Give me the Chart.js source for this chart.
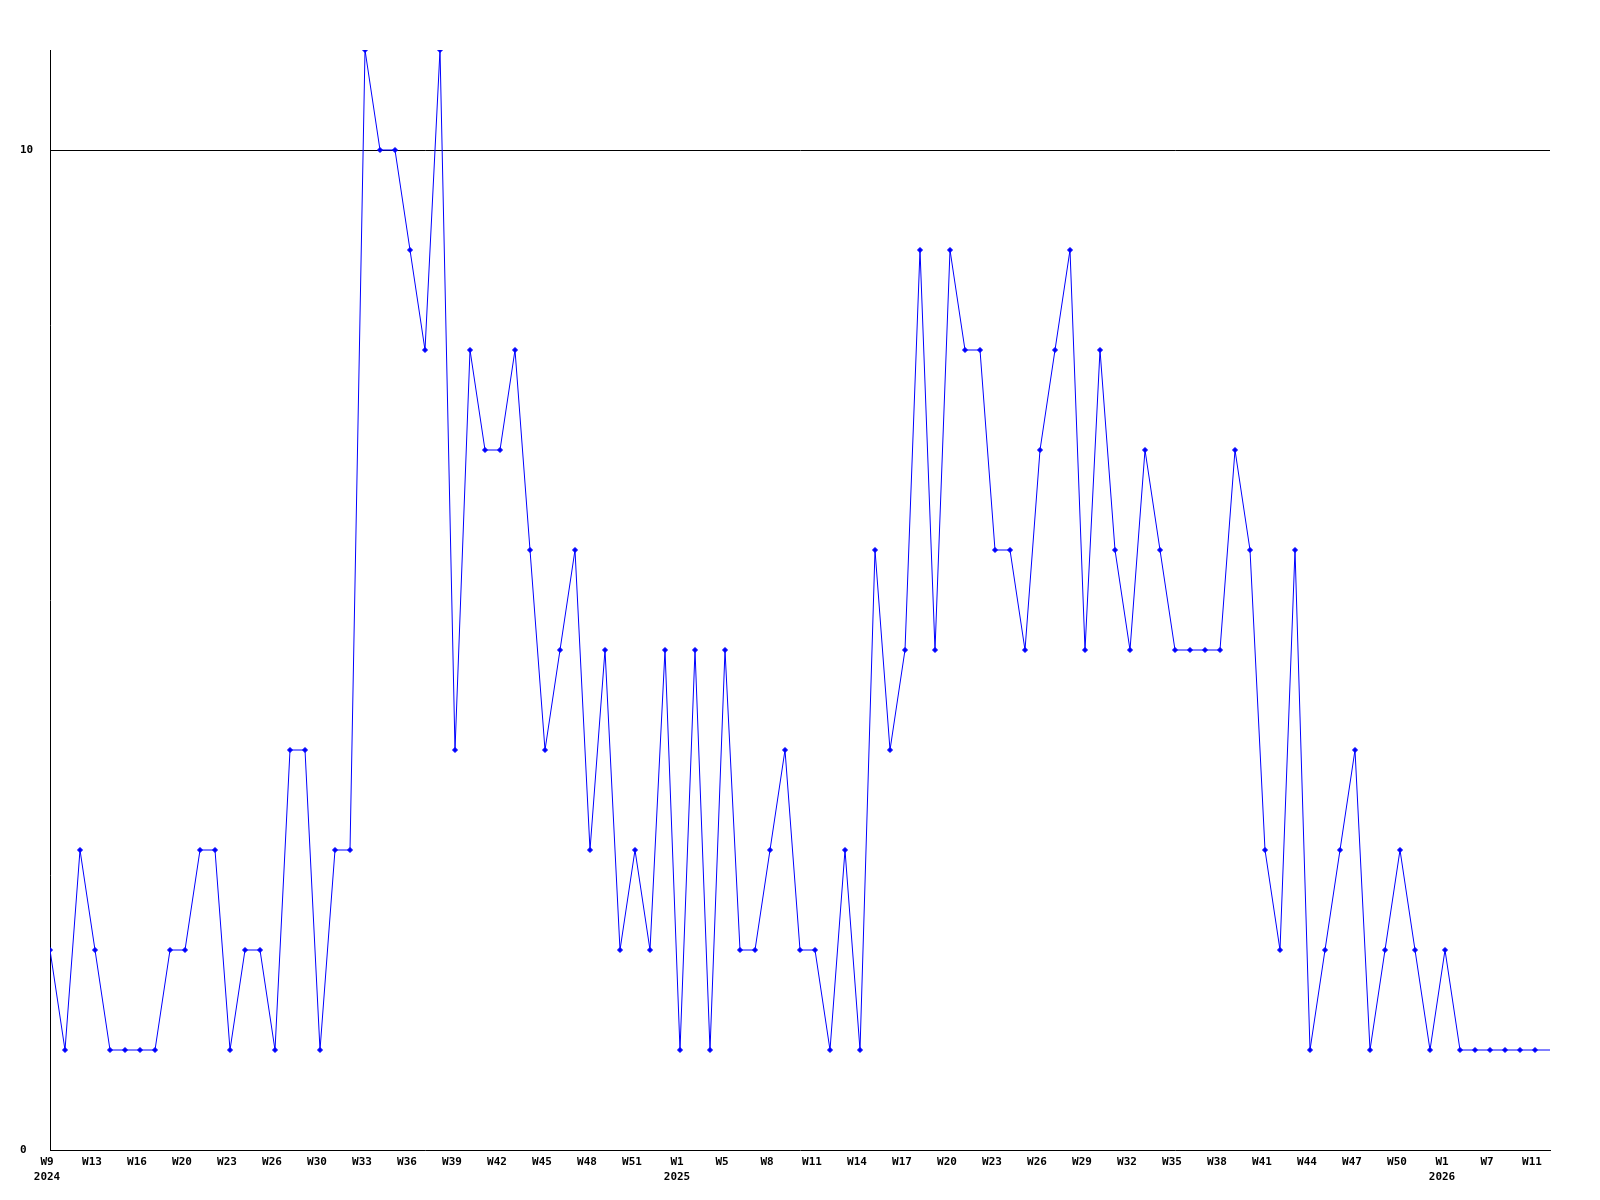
<!DOCTYPE html>
<html>
<head>
<meta charset="utf-8">
<script src="https://cdn.jsdelivr.net/npm/chart.js@4/dist/chart.umd.min.js"></script>
<style>
  html, body { margin: 0; padding: 0; background: #fff; }
  #wrap { width: 1600px; height: 1200px; }
</style>
</head>
<body>
<div id="wrap"><canvas id="weekly"></canvas></div>
<script>
// one value per week, W9 2024 .. W11 2026
var counts = [2,1,3,2,1,1,1,1,2,2,3,3,1,2,2,1,4,4,1,3,3,11,10,10,9,8,11,4,8,7,
  7,8,6,4,5,6,3,5,2,3,2,5,1,5,1,5,2,2,3,4,2,2,1,3,1,6,4,5,9,5,
  9,8,8,6,6,5,7,8,9,5,8,6,5,7,6,5,5,5,5,7,6,3,2,6,1,2,3,4,1,2,
  3,2,1,2,1,1,1,1,1,1];

// labels shown on every third point
var weekLabels = ["W9","W13","W16","W20","W23","W26","W30","W33","W36","W39","W42","W45",
  "W48","W51","W1","W5","W8","W11","W14","W17","W20","W23","W26","W29","W32","W35",
  "W38","W41","W44","W47","W50","W1","W7","W11"];
var yearLabels = ["2024","","","","","","","","","","","","","","2025","","","","","","",
  "","","","","","","","","","","2026","",""];
var yTicks = [0, 10];

var pts = counts.map(function(v, i) { return {x: i, y: v}; });
// line carries on to the right edge at the latest value
pts.push({x: counts.length, y: counts[counts.length - 1]});
var radii = pts.map(function(p, i) { return i < counts.length ? 2.5 : 0; });

var font = { family: "'DejaVu Sans Mono', monospace", size: 11, weight: 'bold', lineHeight: 15/11 };

var ctx = document.getElementById("weekly").getContext('2d');
var chart = new Chart(ctx, {
  type: 'line',
  data: {
    datasets: [{
      data: pts,
      borderColor: "#0000ff",
      backgroundColor: "#0000ff",
      borderWidth: 1,
      pointStyle: 'rectRot',
      pointRadius: radii,
      pointBorderWidth: 1,
      fill: false,
      tension: 0
    }]
  },
  options: {
    responsive: true,
    maintainAspectRatio: false,
    animation: false,
    layout: { padding: { top: 50, right: 50, left: 20, bottom: 0 } },
    plugins: { legend: { display: false }, tooltip: { enabled: false } },
    scales: {
      x: {
        type: 'linear',
        min: 0,
        max: counts.length,
        afterBuildTicks: function(scale) {
          scale.ticks = weekLabels.map(function(l, i) { return {value: i * 3}; });
        },
        afterFit: function(scale) { scale.height = 50; },
        ticks: {
          autoSkip: false,
          maxRotation: 0,
          padding: 5,
          labelOffset: -3,
          color: '#000',
          font: font,
          callback: function(v) {
            var i = Math.round(v / 3);
            return yearLabels[i] ? [weekLabels[i], yearLabels[i]] : weekLabels[i];
          }
        },
        grid: { display: false, drawTicks: false },
        border: { display: true, color: '#000', width: 1 }
      },
      y: {
        min: 0,
        max: 11,
        afterBuildTicks: function(scale) {
          scale.ticks = yTicks.map(function(v) { return {value: v}; });
        },
        afterFit: function(scale) { scale.width = 30; },
        ticks: { crossAlign: 'far', padding: 0, color: '#000', font: font },
        grid: {
          drawTicks: false,
          color: function(c) { return c.tick && c.tick.value === 10 ? '#000' : 'rgba(0,0,0,0)'; },
          lineWidth: 1
        },
        border: { display: true, color: '#000', width: 1 }
      }
    }
  }
});
</script>
</body>
</html>
